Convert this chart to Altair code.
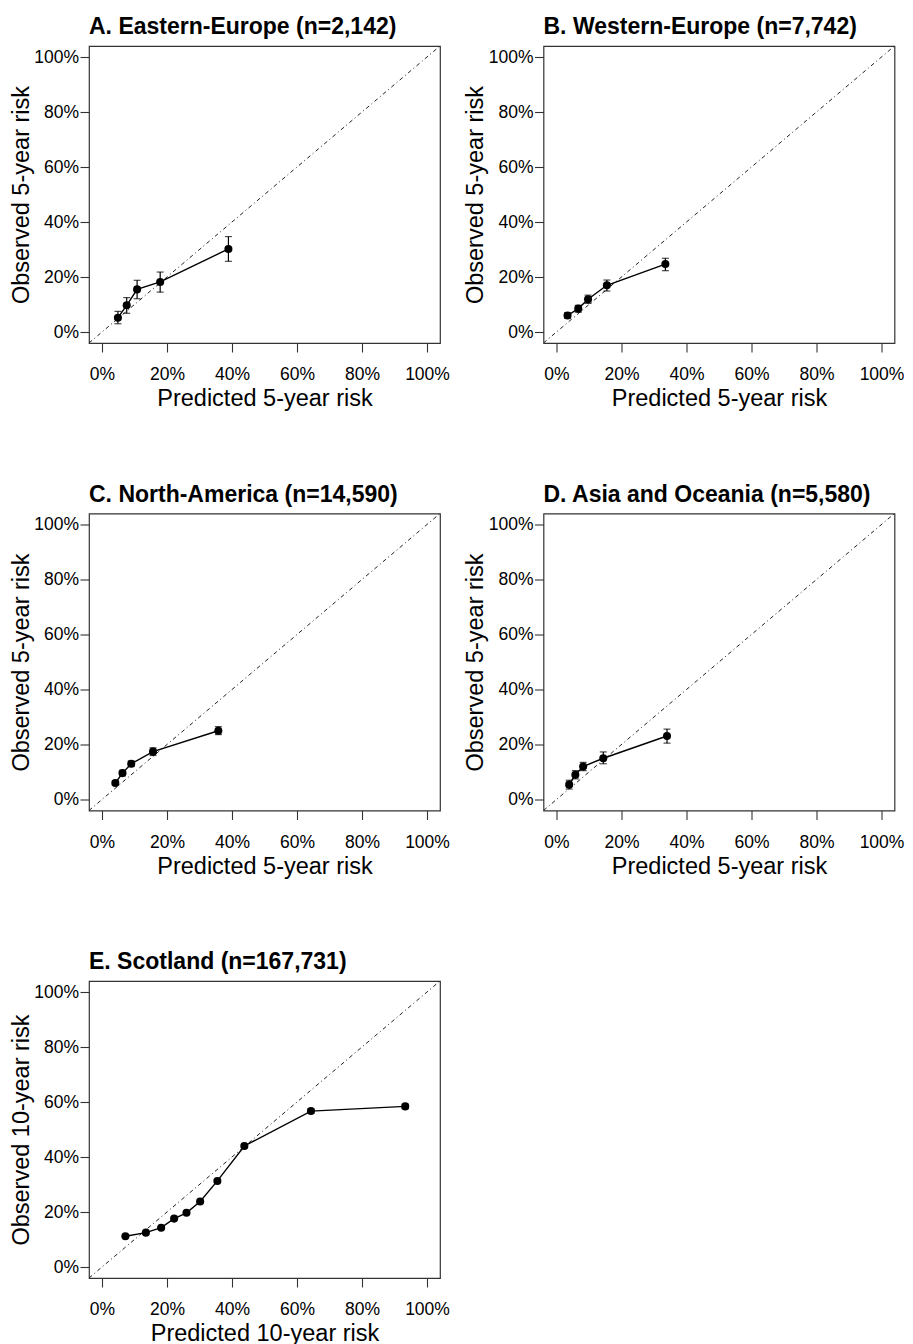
import altair as alt
import pandas as pd

# ---------------- data ----------------
titles = [
    "A. Eastern-Europe (n=2,142)",
    "B. Western-Europe (n=7,742)",
    "C. North-America (n=14,590)",
    "D. Asia and Oceania (n=5,580)",
    "E. Scotland (n=167,731)",
]
x_titles = ["Predicted 5-year risk"] * 4 + ["Predicted 10-year risk"]
y_titles = ["Observed 5-year risk"] * 4 + ["Observed 10-year risk"]

a_pred = [0.049, 0.076, 0.108, 0.179, 0.389]
a_obs = [0.052, 0.097, 0.155, 0.182, 0.302]
a_lo = [0.030, 0.068, 0.121, 0.145, 0.257]
a_hi = [0.075, 0.125, 0.188, 0.218, 0.347]

b_pred = [0.034, 0.067, 0.097, 0.155, 0.335]
b_obs = [0.060, 0.085, 0.119, 0.170, 0.247]
b_lo = [0.050, 0.072, 0.104, 0.149, 0.223]
b_hi = [0.070, 0.097, 0.134, 0.189, 0.268]

c_pred = [0.041, 0.063, 0.090, 0.157, 0.358]
c_obs = [0.060, 0.096, 0.130, 0.174, 0.250]
c_lo = [0.052, 0.086, 0.120, 0.160, 0.236]
c_hi = [0.068, 0.106, 0.140, 0.188, 0.265]

d_pred = [0.039, 0.058, 0.082, 0.144, 0.340]
d_obs = [0.054, 0.090, 0.120, 0.150, 0.231]
d_lo = [0.038, 0.075, 0.105, 0.130, 0.205]
d_hi = [0.070, 0.105, 0.135, 0.173, 0.256]

e_pred = [0.072, 0.135, 0.182, 0.222, 0.260, 0.302, 0.355, 0.438, 0.643, 0.933]
e_obs = [0.112, 0.125, 0.143, 0.176, 0.197, 0.238, 0.313, 0.440, 0.567, 0.584]
e_lo = [0.108, 0.121, 0.139, 0.171, 0.192, 0.233, 0.307, 0.434, 0.559, 0.576]
e_hi = [0.116, 0.129, 0.147, 0.181, 0.202, 0.243, 0.319, 0.446, 0.575, 0.592]

tick_values = [0, 0.2, 0.4, 0.6, 0.8, 1.0]
axis_domain = [-0.04, 1.04]
diag_values = [-0.04, 1.04]

FONT = "Liberation Sans"
W, H = 351, 297


def panel(title, xt, yt, pred, obs, lo, hi):
    df = pd.DataFrame({"pred": pred, "obs": obs, "lo": lo, "hi": hi})
    diag = pd.DataFrame({"pred": diag_values, "obs": diag_values})

    xs = alt.Scale(domain=axis_domain, nice=False, zero=False)
    ys = alt.Scale(domain=axis_domain, nice=False, zero=False)
    xa = alt.Axis(values=tick_values, format=".0%", title=xt,
                  titleX=W / 2, titleY=62.5, titleBaseline="alphabetic",
                  titleAlign="center", labelPadding=13.5)
    ya = alt.Axis(values=tick_values, format=".0%", title=yt,
                  titleX=-61, titleY=H / 2, titleBaseline="alphabetic",
                  titleAlign="center", titleAngle=-90, labelPadding=1.5)

    base_x = alt.X("pred:Q", scale=xs, axis=xa)
    base_y = alt.Y("obs:Q", scale=ys, axis=ya)

    d = alt.Chart(diag).mark_line(
        color="#222", strokeWidth=1, strokeDash=[4, 3, 1, 3], clip=True
    ).encode(x=base_x, y=base_y)
    ln = alt.Chart(df).mark_line(color="black", strokeWidth=1.4).encode(
        x=base_x, y=base_y)
    err = alt.Chart(df).mark_rule(color="black", strokeWidth=1.2).encode(
        x=base_x, y=alt.Y("lo:Q", scale=ys, axis=ya), y2="hi:Q")
    cap_lo = alt.Chart(df).mark_tick(
        color="black", orient="horizontal", size=7, thickness=1.2
    ).encode(x=base_x, y=alt.Y("lo:Q", scale=ys, axis=ya))
    cap_hi = alt.Chart(df).mark_tick(
        color="black", orient="horizontal", size=7, thickness=1.2
    ).encode(x=base_x, y=alt.Y("hi:Q", scale=ys, axis=ya))
    pts = alt.Chart(df).mark_point(
        filled=True, color="black", size=65, opacity=1
    ).encode(x=base_x, y=base_y)

    return alt.layer(d, err, cap_lo, cap_hi, ln, pts).properties(
        width=W, height=H,
        title=alt.TitleParams(title, anchor="start", frame="group",
                              fontSize=23, fontWeight="bold", font=FONT,
                              color="black", baseline="alphabetic", offset=-11),
    )


panels = [
    panel(titles[0], x_titles[0], y_titles[0], a_pred, a_obs, a_lo, a_hi),
    panel(titles[1], x_titles[1], y_titles[1], b_pred, b_obs, b_lo, b_hi),
    panel(titles[2], x_titles[2], y_titles[2], c_pred, c_obs, c_lo, c_hi),
    panel(titles[3], x_titles[3], y_titles[3], d_pred, d_obs, d_lo, d_hi),
    panel(titles[4], x_titles[4], y_titles[4], e_pred, e_obs, e_lo, e_hi),
]

chart = alt.concat(
    *panels, columns=2, spacing={"row": 170.5, "column": 103.5}, bounds="flush"
).properties(
    padding={"left": 0, "top": 7, "right": 0, "bottom": 0}
).configure_view(
    stroke="#333", strokeWidth=1.2
).configure_axis(
    domain=False, grid=False, tickColor="#333", tickSize=9, tickWidth=1.1,
    labelFontSize=17.5, labelFont=FONT, labelColor="black",
    titleFontSize=23.5, titleFont=FONT, titleFontWeight="normal", titleColor="black",
)

chart.save("out.html", embed_options={"renderer": "svg", "actions": False})
